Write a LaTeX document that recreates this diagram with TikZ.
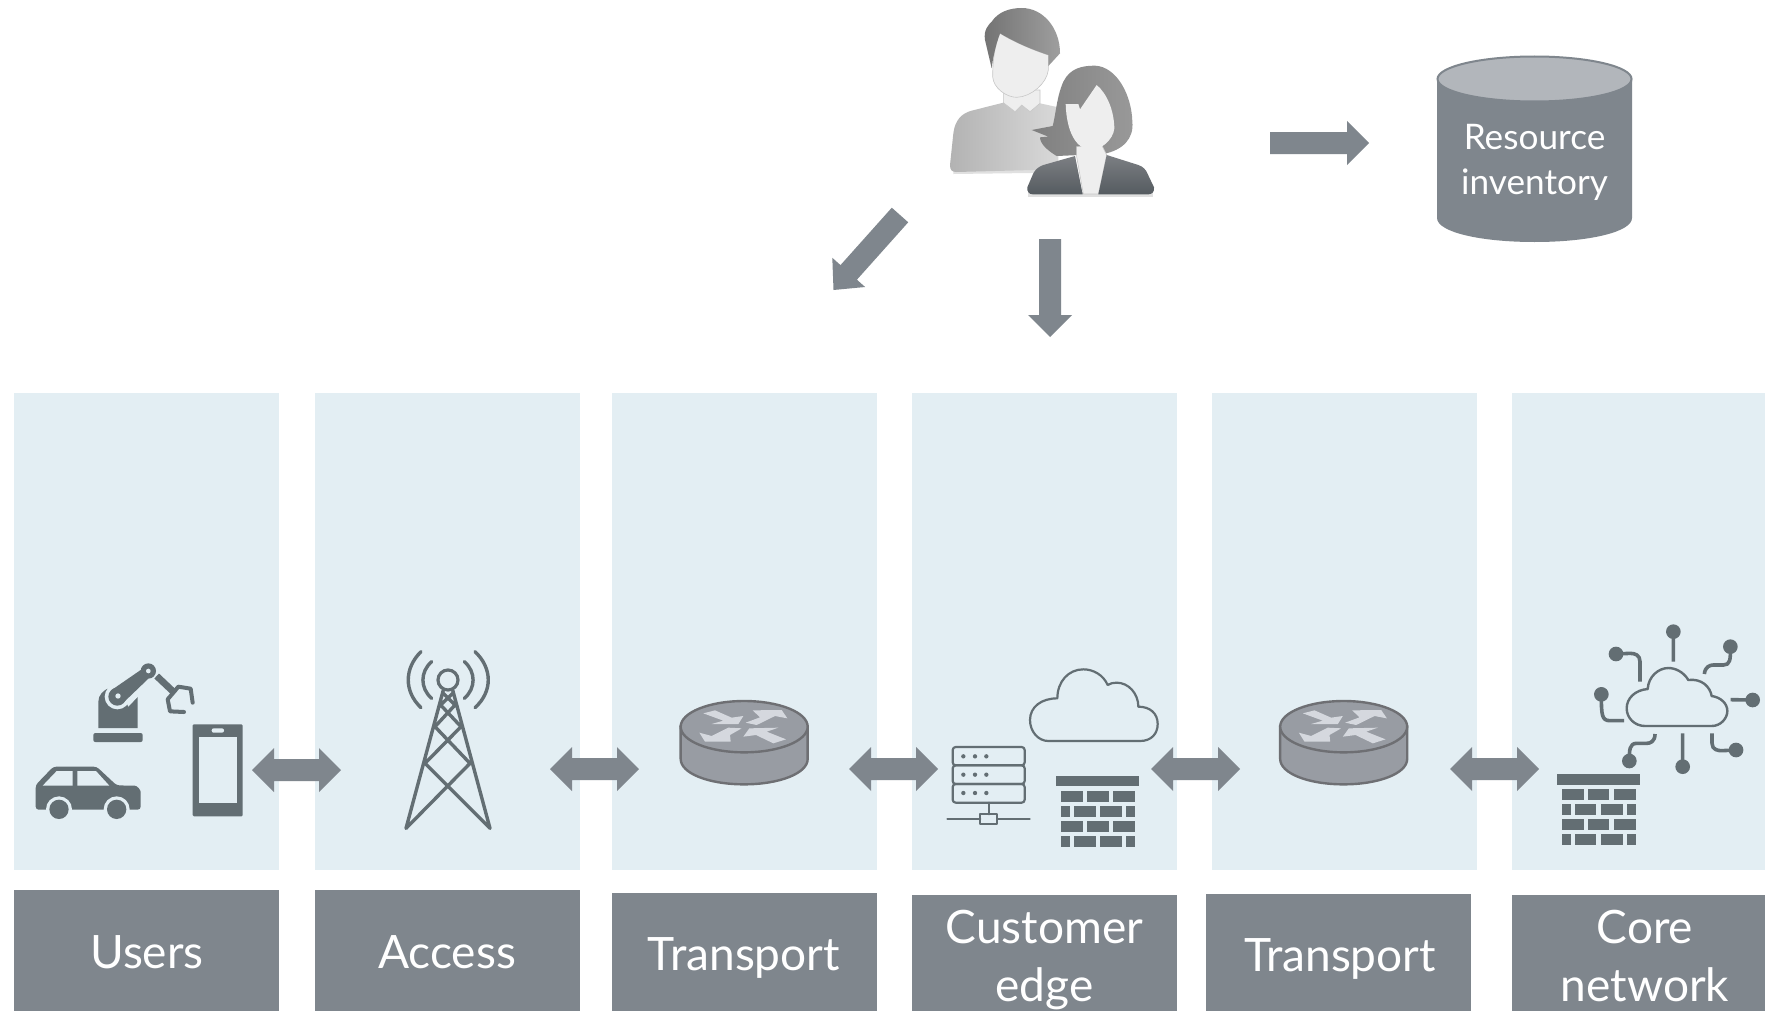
\documentclass[tikz,border=0pt]{standalone}
\usepackage{fontspec}
\setmainfont{Lato}
\definecolor{panelc}{HTML}{E3EEF3}
\definecolor{boxc}{HTML}{7F868D}
\definecolor{iconc}{HTML}{636E73}
\definecolor{rtfill}{HTML}{989CA3}
\definecolor{rtline}{HTML}{6E6F73}
\definecolor{rtarrow}{HTML}{D5D8DE}
\definecolor{cyltop}{HTML}{B2B6BB}
\definecolor{facec}{HTML}{EEEEEE}
\definecolor{jackettop}{HTML}{7C7F83}
\definecolor{jacketbot}{HTML}{555B60}
\tikzset{
  zoomat/.style n args={2}{shift={(#1,#2)},x=0.16667pt,y=-0.16667pt},
  panel/.style={fill=panelc},
  lbox/.style={fill=boxc},
  lbl/.style={text=white,anchor=base,inner sep=0pt,font=\fontsize{23pt}{26pt}\selectfont},
  cyl/.style={text=white,anchor=base,inner sep=0pt,font=\fontsize{17.6pt}{20pt}\selectfont},
  stk/.style={draw=iconc,line width=1.1pt,line cap=round,line join=round},
  ico/.style={fill=iconc},
  gap/.style={fill=panelc},
}
\newcommand{\dblarrow}[2]{\fill[boxc] ({#1-44.5},#2) -- ({#1-22.5},{#2-22}) -- ({#1-22.5},{#2-11}) -- ({#1+22.5},{#2-11}) -- ({#1+22.5},{#2-22}) -- ({#1+44.5},#2) -- ({#1+22.5},{#2+22}) -- ({#1+22.5},{#2+11}) -- ({#1-22.5},{#2+11}) -- ({#1-22.5},{#2+22}) -- cycle;}
\newcommand{\fwicon}{%
  \fill[ico] (409,377) rectangle (657,409);
  \foreach \y in {423,513} {
    \fill[ico] (423,\y) rectangle (489,\y+32);
    \fill[ico] (501,\y) rectangle (566,\y+32);
    \fill[ico] (579,\y) rectangle (645,\y+32);
  }
  \foreach \y in {468,558} {
    \fill[ico] (423,\y) rectangle (450,\y+32);
    \fill[ico] (462,\y) rectangle (527,\y+32);
    \fill[ico] (540,\y) rectangle (606,\y+32);
    \fill[ico] (618,\y) rectangle (645,\y+32);
  }
}
\newcommand{\rticon}{%
  \filldraw[fill=rtfill,draw=rtline,line width=1.2pt] (902,290) -- (902,387) .. controls (902,430) and (986,463) .. (1092,463) .. controls (1198,463) and (1283,430) .. (1283,387) -- (1283,290) -- cycle;
  \filldraw[fill=rtfill,draw=rtline,line width=1.2pt] (1092.5,290) ellipse [x radius=190.5,y radius=77];
  \fill[rtarrow] (970,250) -- (1005,241) -- (1055,263) -- (1090,258) -- (1075,282) -- (995,282) -- (1030,272) -- cycle;
  \fill[rtarrow] (1097,278) -- (1140,262) -- (1118,241) -- (1205,240) -- (1222,265) -- (1185,258) -- (1130,285) -- cycle;
  \fill[rtarrow] (1085,295) -- (1050,315) -- (1052,335) -- (975,335) -- (958,308) -- (995,318) -- (1045,293) -- cycle;
  \fill[rtarrow] (1090,320) -- (1108,295) -- (1195,293) -- (1160,305) -- (1218,328) -- (1180,340) -- (1128,315) -- cycle;
}
\begin{document}
\begin{tikzpicture}[x=0.5pt,y=-0.5pt]
\useasboundingbox (0,0) rectangle (1765,1011);
\fill[white] (0,0) rectangle (1765,1011);

% panels
\fill[panel] (14,393) rectangle (279,870);
\fill[panel] (315,393) rectangle (580,870);
\fill[panel] (612,393) rectangle (877,870);
\fill[panel] (912,393) rectangle (1177,870);
\fill[panel] (1212,393) rectangle (1477,870);
\fill[panel] (1512,393) rectangle (1765,870);

% label boxes
\fill[lbox] (14,890) rectangle (279,1011);
\fill[lbox] (315,890) rectangle (580,1011);
\fill[lbox] (612,893) rectangle (877,1011);
\fill[lbox] (912,895) rectangle (1177,1011);
\fill[lbox] (1206,894) rectangle (1471,1011);
\fill[lbox] (1512,895) rectangle (1765,1011);
\node[lbl] (tusers) at (147,968) {Users};
\node[lbl] (taccess) at (447,968) {Access};
\node[lbl] (ttrans) at (744,970) {Transport};
\node[lbl] (tcust) at (1044.5,943) {Customer};
\node[lbl] (tedge) at (1044.5,1001) {edge};
\node[lbl] (ttrans2) at (1340,971) {Transport};
\node[lbl] (tcore) at (1645,943) {Core};
\node[lbl] (tnet) at (1645,1001) {network};

% double arrows
\dblarrow{296.5}{770}
\dblarrow{594.5}{769}
\dblarrow{893.5}{769}
\dblarrow{1195.5}{769}
\dblarrow{1494.5}{769}

% top arrows
\fill[boxc] (1270,132) -- (1347,132) -- (1347,121) -- (1369,143) -- (1347,165) -- (1347,154) -- (1270,154) -- cycle;
\fill[boxc] (1039,239) -- (1061,239) -- (1061,315) -- (1072,315) -- (1050,337) -- (1028,315) -- (1039,315) -- cycle;
\fill[boxc] (891.8,207.7) -- (908.2,222.3) -- (856.9,279.7) -- (865.1,287) -- (833.5,290) -- (832.3,257.8) -- (840.5,265.1) -- cycle;

% cylinder
\fill[boxc] (1437,78) -- (1437,218) .. controls (1437,232) and (1480,242) .. (1534.5,242) .. controls (1589,242) and (1632,232) .. (1632,218) -- (1632,78) -- cycle;
\filldraw[fill=cyltop,draw=boxc,line width=1pt] (1534.5,79) ellipse [x radius=97,y radius=22.5];
\node[cyl] (tres) at (1534.5,149) {Resource};
\node[cyl] (tinv) at (1534.5,194) {inventory};

% people
\begin{scope}[zoomat={900}{0}]
  \fill[black!12] (160,522) -- (470,518) -- (470,505) -- (160,505) -- cycle;
  \shade[left color=black!30,right color=black!15] (150,495) -- (160,400) .. controls (165,360) and (185,340) .. (215,332) -- (310,308) -- (420,310) -- (475,322) -- (475,508) -- (170,516) .. controls (155,516) and (150,510) .. (150,495) -- cycle;
  \filldraw[fill=facec,draw=black!22,line width=0.3pt] (310,270) -- (310,308) -- (345,335) -- (365,315) -- (390,335) -- (420,310) -- (420,270) -- cycle;
  \filldraw[fill=facec,draw=black!22,line width=0.3pt] (300,100) .. controls (282,140) and (278,190) .. (278,230) .. controls (280,265) and (320,292) .. (350,292) .. controls (395,290) and (440,250) .. (445,210) -- (445,165) .. controls (400,150) and (350,130) .. (300,100) -- cycle;
  \shade[left color=black!55,right color=black!38] (275,205) -- (255,120) .. controls (250,90) and (265,75) .. (275,65) .. controls (295,35) and (330,24) .. (365,24) .. controls (430,24) and (480,85) .. (480,160) -- (445,198) -- (445,165) .. controls (400,150) and (350,130) .. (300,100) .. controls (285,140) and (278,180) .. (275,205) -- cycle;
  % woman
  \fill[black!12] (385,590) -- (760,590) -- (760,575) -- (385,575) -- cycle;
  \shade[left color=black!50,right color=black!40] (395,390) -- (458,378) .. controls (468,340) and (470,290) .. (490,245) .. controls (510,205) and (545,197) .. (585,197) .. controls (650,200) and (695,285) .. (697,365) .. controls (702,415) and (670,450) .. (610,462) -- (470,468) .. controls (440,450) and (420,430) .. (420,412) -- (445,410) -- cycle;
  \filldraw[fill=facec,draw=black!22,line width=0.3pt] (530,440) -- (530,470) -- (550,582) -- (595,582) -- (620,465) -- (605,435) -- cycle;
  \filldraw[fill=facec,draw=none] (497,312) -- (535,312) -- (540,328) -- (590,255) .. controls (620,280) and (642,330) .. (643,385) .. controls (640,420) and (600,452) .. (570,450) .. controls (530,445) and (500,400) .. (497,312) -- cycle;
  \shade[top color=jackettop,bottom color=jacketbot] (525,468) -- (430,495) .. controls (415,500) and (405,510) .. (400,520) -- (382,562) .. controls (380,575) and (388,583) .. (398,583) -- (548,583) -- cycle;
  \shade[top color=jackettop,bottom color=jacketbot] (620,465) -- (715,495) .. controls (730,500) and (738,510) .. (742,520) -- (762,562) .. controls (764,575) and (756,583) .. (745,583) -- (595,583) -- cycle;
\end{scope}

% users icons
\begin{scope}[zoomat={0}{640}]
  \fill[ico,rounded corners=1pt] (280,306) -- (280,279) -- (428,279) -- (428,306) -- cycle;
  \fill[ico] (295,264) -- (295,185) .. controls (295,165) and (310,150) .. (330,143) -- (400,143) .. controls (410,150) and (413,160) .. (413,175) -- (413,264) -- cycle;
  \fill[gap] (352,170) circle (38);
  \fill[gap] (352,132) -- (445,65) -- (480,100) -- (385,200) -- cycle;
  \fill[ico] (335,150) -- (422,90) -- (445,116) -- (370,188) -- cycle;
  \fill[ico] (352,170) circle (27);
  \fill[gap] (354,168) circle (8);
  \draw[iconc,line width=3.4pt] (470,108) -- (525,160);
  \fill[ico] (445,93) circle (23);
  \fill[gap] (445,93) circle (7);
  \draw[iconc,line width=2pt,line cap=round,line join=round] (578,188) -- (572,146) -- (535,140) -- (503,178) -- (510,214) -- (552,216);
  % phone
  \fill[ico,rounded corners=0.6pt] (578,253) rectangle (728,529);
  \fill[gap] (597,290) rectangle (710,490);
  \fill[gap,rounded corners=1pt] (635,265) rectangle (672,278);
  % car
  \fill[ico,rounded corners=1.5pt] (107,509) -- (107,435) -- (160,380) -- (290,380) -- (350,436) -- (395,437) .. controls (412,437) and (422,450) .. (422,465) -- (422,509) -- cycle;
  \fill[gap] (177,508) circle (39);
  \fill[gap] (350,508) circle (39);
  \fill[ico] (177,508) circle (29);
  \fill[ico] (350,508) circle (29);
  \fill[gap] (128,437) -- (170,393) -- (218,393) -- (218,437) -- cycle;
  \fill[gap] (232,393) -- (288,393) -- (328,437) -- (232,437) -- cycle;
\end{scope}

% tower
\begin{scope}[zoomat={380}{630}]
  \draw[iconc,line width=1.7pt,line cap=round,line join=round]
    (190,180) -- (78,595) -- (270,400) -- (165,290) -- (225,225) -- (190,190)
    (218,180) -- (330,595) -- (135,400) -- (243,290) -- (182,225) -- (218,190);
  \draw[iconc,line width=1.6pt] (204,150) circle (30);
  \draw[iconc,line width=1.7pt,line cap=round]
    (155,95) .. controls (120,125) and (120,175) .. (155,205)
    (123,65) .. controls (72,115) and (72,185) .. (123,233)
    (253,95) .. controls (288,125) and (288,175) .. (253,205)
    (285,65) .. controls (338,115) and (338,185) .. (285,233);
\end{scope}

% routers
\begin{scope}[zoomat={380}{630}]
  \rticon
\end{scope}
\begin{scope}[zoomat={979.5}{630}]
  \rticon
\end{scope}

% edge icons
\begin{scope}[zoomat={920}{650}]
  \draw[stk] (385,273) -- (660,273) .. controls (695,273) and (713,250) .. (713,222) .. controls (713,190) and (690,170) .. (655,170) .. controls (655,130) and (625,98) .. (590,98) .. controls (580,98) and (570,100) .. (563,105) .. controls (550,75) and (520,58) .. (490,58) .. controls (445,58) and (412,95) .. (412,145) .. controls (365,145) and (330,170) .. (330,210) .. controls (330,245) and (355,273) .. (385,273) -- cycle;
  \foreach \a/\b in {291/346,346/402,402/458} {
    \draw[stk,rounded corners=1.5pt] (98,\a) rectangle (314,\b);
  }
  \foreach \y in {319,374,429} {
    \foreach \x in {130,165,199} { \fill[ico] (\x,\y) circle (6.5); }
  }
  \draw[stk] (206,458) -- (206,493);
  \draw[stk] (181,493) rectangle (232,523);
  \draw[stk] (82,508) -- (181,508);
  \draw[stk] (232,508) -- (329,508);
  \fwicon
\end{scope}

% core icons
\begin{scope}[zoomat={1420.7}{648.3}]
  \fwicon
\end{scope}
\begin{scope}[zoomat={1530}{610}]
  \draw[stk,line width=1.2pt] (345,348) -- (545,348) .. controls (572,348) and (592,325) .. (592,303) .. controls (592,280) and (572,262) .. (545,258) .. controls (540,230) and (515,205) .. (475,210) .. controls (460,185) and (435,174) .. (415,174) .. controls (385,174) and (355,200) .. (353,237) .. controls (315,240) and (290,265) .. (290,295) .. controls (290,325) and (315,348) .. (345,348) -- cycle;
  \draw[stk,line width=1.8pt,line cap=butt]
    (430,155) -- (430,65)
    (523,192) .. controls (525,170) and (540,165) .. (550,165) -- (580,165) .. controls (600,165) and (602,150) .. (601,110)
    (602,269) -- (668,270)
    (546,370) -- (546,400) .. controls (546,420) and (565,422) .. (575,422) -- (618,420)
    (458,370) -- (458,470)
    (375,372) .. controls (375,395) and (360,400) .. (350,400) -- (320,400) .. controls (298,400) and (298,420) .. (298,453)
    (282,332) -- (240,332) .. controls (215,332) and (214,315) .. (214,253)
    (330,215) -- (330,155) .. controls (330,135) and (315,130) .. (300,130) -- (258,132);
  \foreach \x/\y in {430/65,601/110,668/270,618/420,458/470,298/453,214/253,258/132} {
    \fill[ico] (\x,\y) circle (22);
  }
\end{scope}
\end{tikzpicture}
\end{document}
